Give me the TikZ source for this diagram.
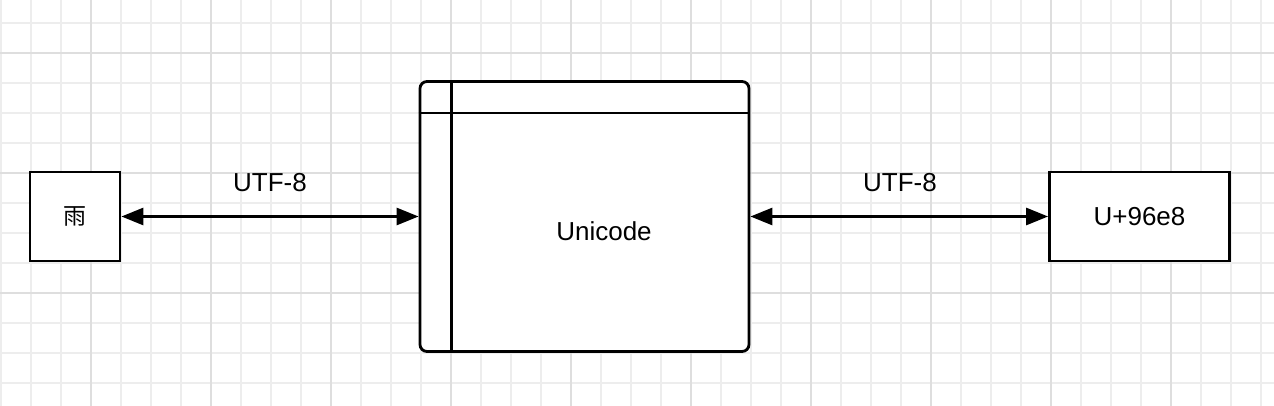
\documentclass[tikz,border=0pt]{standalone}
\usepackage{fontspec}
\setmainfont{Liberation Sans}
\newfontfamily\cjk{Noto Sans CJK SC}
\usetikzlibrary{arrows.meta}
\begin{document}
\begin{tikzpicture}[x=1pt,y=-1pt,
  box/.style={draw=black, line width=2.8pt, fill=white, inner sep=0pt},
  conn/.style={line width=2.8pt, {Triangle[length=22pt,width=17pt]}-{Triangle[length=22pt,width=17pt]}},
  lbl/.style={font=\fontsize{26}{31}\selectfont, inner sep=0pt},
  minor/.style={draw=black!7, line width=1.2pt},
  major/.style={draw=black!13, line width=1.2pt}]
\useasboundingbox[fill=white] (0,0) rectangle (1274,406);
% grid
\foreach \x in {1,31,...,1273} {\draw[minor] (\x,0) -- (\x,406);}
\foreach \y in {23,53,...,405} {\draw[minor] (0,\y) -- (1274,\y);}
\foreach \x in {91,211,...,1273} {\draw[major] (\x,0) -- (\x,406);}
\foreach \y in {53,173,293} {\draw[major] (0,\y) -- (1274,\y);}
% nodes
\node[box, minimum width=90pt, minimum height=89pt, font=\cjk\fontsize{23}{28}\selectfont] (rain) at (75,216.5) {雨};
\node[box, minimum width=329pt, minimum height=270pt, rounded corners=7pt] (uni) at (584.5,216.5) {};
\draw[line width=2.8pt] ([xshift=33pt]uni.north west) -- ([xshift=33pt]uni.south west);
\draw[line width=2.8pt] ([yshift=-33pt]uni.north west) -- ([yshift=-33pt]uni.north east);
\node[lbl] (unitext) at (604,231) {Unicode};
\node[box, minimum width=180pt, minimum height=89pt, font=\fontsize{26}{31}\selectfont] (cp) at (1139.5,216.5) {U+96e8};
% connectors
\draw[conn] (rain.east) -- (rain.east -| uni.west);
\draw[conn] (uni.east) -- (uni.east -| cp.west);
\node[lbl] (l1) at (270,183) {UTF-8};
\node[lbl] (l2) at (900,183) {UTF-8};
\end{tikzpicture}
\end{document}
